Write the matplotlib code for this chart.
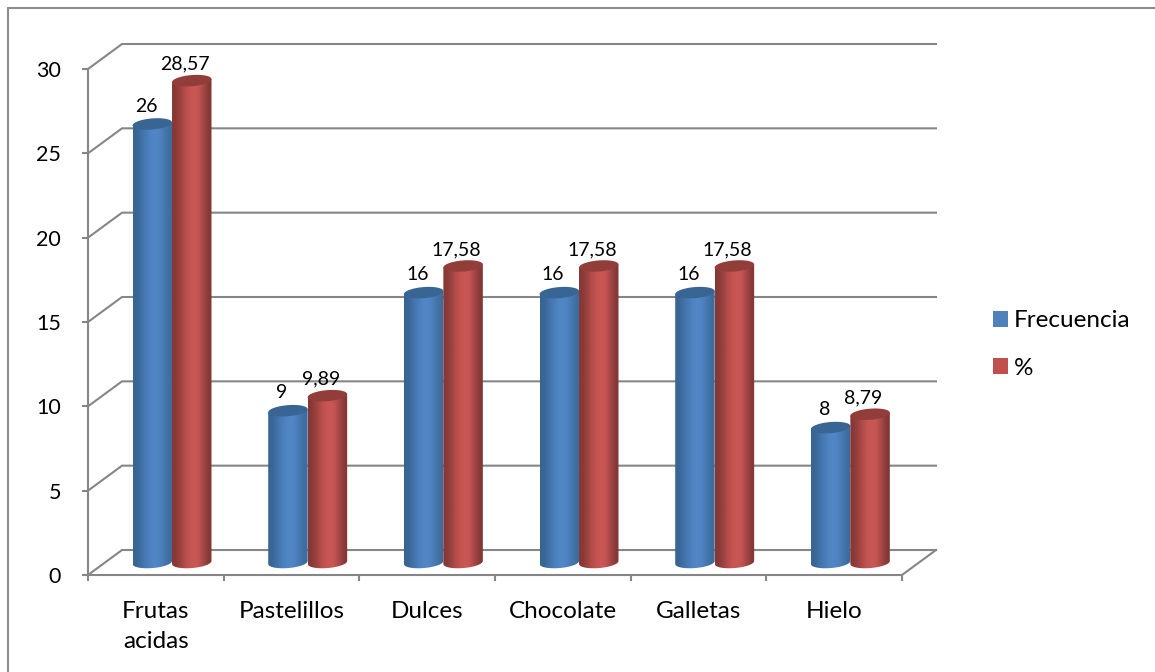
import numpy as np
import matplotlib
matplotlib.use('Agg')
import matplotlib.pyplot as plt
from matplotlib.colors import to_rgba_array
from matplotlib.patches import Patch, PathPatch, Polygon, Rectangle
from matplotlib.path import Path

categories = ["Frutas\nacidas", "Pastelillos", "Dulces", "Chocolate", "Galletas", "Hielo"]
frecuencia = [26, 9, 16, 16, 16, 8]
porcentaje = [28.57, 9.89, 17.58, 17.58, 17.58, 8.79]
frecuencia_labels = ["26", "9", "16", "16", "16", "8"]
porcentaje_labels = ["28,57", "9,89", "17,58", "17,58", "17,58", "8,79"]
y_ticks = [0, 5, 10, 15, 20, 25, 30]

W, H = 1155, 672
GRAY = '#868686'
FONT = 'Lato'

# depth of the fake 3d box, in data units
depth_x = 34 / 135.67
depth_y = 25 / 16.87
bar_w = 0.291
cap_a = bar_w / 2
cap_b = 0.33
cap_tilt = 0.09

blue_shades = ['#38648f', '#4679b5', '#5389c9', '#4f84c2', '#3c6a9c']
red_shades = ['#833836', '#b24b48', '#cd5a57', '#c65552', '#7f3634']
blue_cap = '#396594'
red_cap = '#933d3b'

fig = plt.figure(figsize=(W / 100, H / 100), dpi=100)
ax = fig.add_axes([88 / W, 1 - 575 / H, (902 - 88) / W, (575 - 69) / H])
ax.patch.set_visible(False)

for s in ['top', 'right']:
    ax.spines[s].set_visible(False)
for s in ['left', 'bottom']:
    ax.spines[s].set_color(GRAY)
    ax.spines[s].set_linewidth(1.5)

ax.set_yticks(y_ticks)
ax.set_xticks(range(7))
ax.set_xticklabels([])
ax.set_xticks(np.arange(6) + 0.5, minor=True)
ax.set_xticklabels(categories, minor=True, fontsize=17.5, family=FONT, color='black', linespacing=1.5)
ax.tick_params(axis='y', length=4.5, width=1.5, color=GRAY, labelsize=15.5, pad=15)
ax.tick_params(axis='x', which='major', length=4.5, width=1.5, color=GRAY)
ax.tick_params(axis='x', which='minor', length=0, pad=19)
for lab in ax.get_yticklabels():
    lab.set_family(FONT)
    lab.set_verticalalignment('center_baseline')

# back wall, side wall and floor
for v in y_ticks:
    ax.plot([0, depth_x, 6 + depth_x], [v, v + depth_y, v + depth_y], color=GRAY, lw=1.5,
            clip_on=False, zorder=1, solid_joinstyle='miter')
ax.plot([6, 6 + depth_x], [0, depth_y], color=GRAY, lw=1.5, clip_on=False, zorder=1)


def cylinder(cx, value, shades, cap_color, z):
    base = depth_y / 2
    t = np.linspace(np.pi, 2 * np.pi, 40)
    bx = cx + cap_a * np.cos(t)
    by = base + cap_b * np.sin(t) + cap_tilt * np.cos(t)
    tx = bx[::-1]
    ty = base + value + cap_tilt * np.cos(t[::-1])
    outline = Path(np.c_[np.r_[bx, tx], np.r_[by, ty]])
    grad = to_rgba_array(shades)[None, :, :3]
    im = ax.imshow(grad, extent=[cx - cap_a, cx + cap_a, base - 1, base + value + 1], aspect='auto',
                   interpolation='bicubic', zorder=z)
    im.set_clip_path(PathPatch(outline, transform=ax.transData))
    t = np.linspace(0, 2 * np.pi, 80)
    cap = np.c_[cx + cap_a * np.cos(t), base + value + cap_b * np.sin(t) + cap_tilt * np.cos(t)]
    ax.add_patch(Polygon(cap, closed=True, facecolor=cap_color, edgecolor='none', zorder=z + 0.1, clip_on=False))


for i in range(6):
    c = i + 0.5 + depth_x / 2 - 0.006
    cylinder(c - bar_w / 2, frecuencia[i], blue_shades, blue_cap, 3 + i)
    cylinder(c + bar_w / 2, porcentaje[i], red_shades, red_cap, 3.5 + i)
    top = depth_y / 2
    ax.text(c - bar_w / 2 - 0.045, frecuencia[i] + top + 1.06, frecuencia_labels[i], ha='center', va='center',
            fontsize=14, family=FONT, zorder=20, clip_on=False)
    ax.text(c + bar_w / 2 - 0.05, porcentaje[i] + top + 0.97, porcentaje_labels[i], ha='center', va='center',
            fontsize=14, family=FONT, zorder=20, clip_on=False)
ax.set_xlim(0, 6)
ax.set_ylim(0, 30)

# chart frame
fig.add_artist(Rectangle((7.5 / W, -0.01), (W + 10) / W, 1 - 8 / H + 0.01, transform=fig.transFigure,
                         fill=False, edgecolor='#8c8c8c', lw=1.5))

handles = [Patch(facecolor='#4f81bd', label='Frecuencia'), Patch(facecolor='#c0504d', label='%')]
fig.legend(handles=handles, loc='center left', bbox_to_anchor=(993 / W, 1 - 344.5 / H), frameon=False,
           handlelength=0.62, handleheight=0.62, handletextpad=0.25, labelspacing=1.07,
           prop={'family': FONT, 'size': 17.5}, borderpad=0, borderaxespad=0)

fig.savefig('out.png', dpi=100)
